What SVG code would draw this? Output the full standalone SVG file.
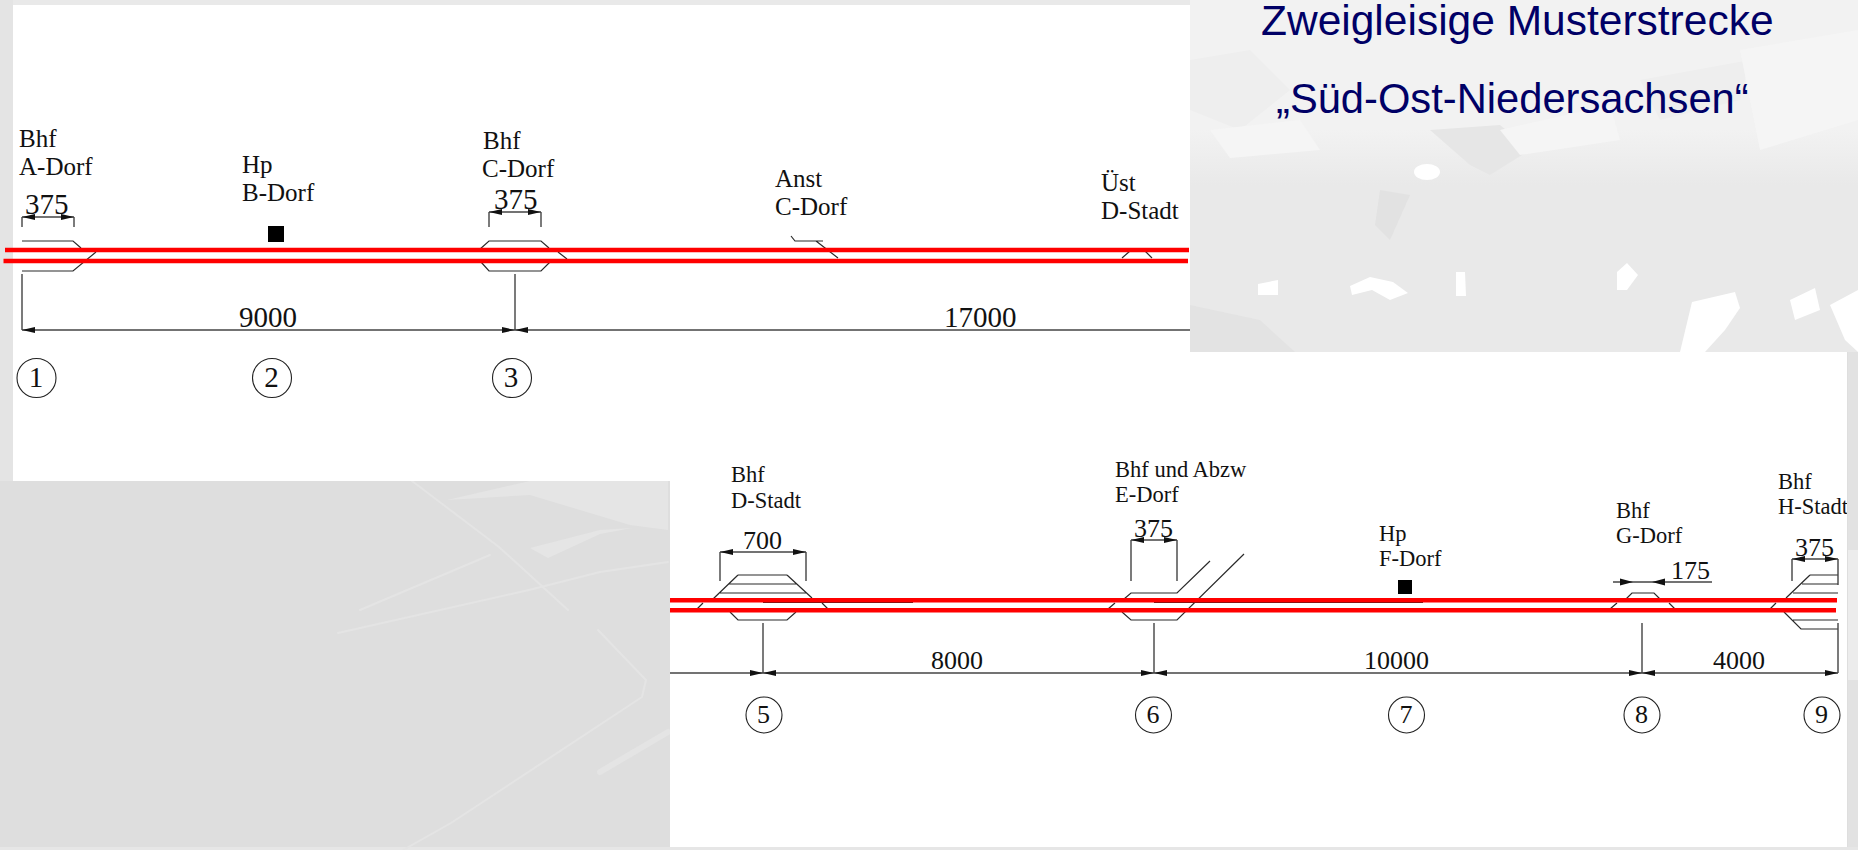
<svg xmlns="http://www.w3.org/2000/svg" width="1858" height="850" viewBox="0 0 1858 850">
<style>
.l{fill:none;stroke:#2a2a2a;stroke-width:1.2}
.t{font-family:"Liberation Serif","Times New Roman",serif;fill:#111}
.a{font-size:25px}.b{font-size:22.500px}.n{font-size:29px}.m{font-size:26px}
.track{fill:none;stroke:#ff0000;stroke-width:4.500}
.dim{fill:none;stroke:#444;stroke-width:1.400;marker-start:url(#ah);marker-end:url(#ah)}
.dimn{fill:none;stroke:#444;stroke-width:1.400}
.c{fill:#fff;stroke:#222;stroke-width:1.100}
.st{fill:none;stroke:#e4e4e4;stroke-linecap:round}
.title{font-family:"Liberation Sans",Arial,sans-serif;font-size:42.500px;fill:#000066}
</style>
<defs>
<marker id="ah" markerUnits="userSpaceOnUse" markerWidth="13" markerHeight="7" refX="13" refY="3.500" orient="auto-start-reverse"><path d="M0 0.500L13 3.500L0 6.500Z" fill="#111"/></marker>
<clipPath id="sheet2"><rect x="670" y="352" width="1177" height="495"/></clipPath>
<linearGradient id="fade" x1="0" y1="0" x2="0" y2="1"><stop offset="0.700" stop-color="#f2f2f2"/><stop offset="1" stop-color="#e9e9e9"/></linearGradient>
</defs>
<g id="background">
<rect width="1858" height="850" fill="#dedede"/>
<rect x="0" y="0" width="1858" height="352" fill="#e9e9e9"/>
<rect x="1190" y="0" width="668" height="185" fill="url(#fade)"/>
<path d="M1190 60L1250 50L1290 90L1240 130L1190 110Z" fill="#eeeeee"/>
<path d="M1430 130L1500 125L1530 150L1490 175L1470 165Z" fill="#e6e6e6"/>
<path d="M1640 80L1750 60L1740 100L1660 120Z" fill="#eeeeee"/>
<path d="M1210 130L1300 120L1320 150L1230 158Z" fill="#f5f5f5"/>
<path d="M1500 130L1610 105L1620 140L1520 155Z" fill="#f5f5f5"/>
<path d="M1740 50L1858 30L1858 120L1760 150Z" fill="#f5f5f5"/>
<path d="M1380 190L1410 195L1390 240L1375 225Z" fill="#e2e2e2"/>
<path d="M1190 305L1260 320L1295 352L1190 352Z" fill="#e3e3e3"/>
<g fill="#fff">
<ellipse cx="1427" cy="172" rx="13" ry="8"/>
<path d="M1258 284L1278 280L1278 295L1258 295Z"/>
<path d="M1350 286L1370 277L1393 282L1408 293L1390 300L1372 290L1352 295Z"/>
<path d="M1456 272L1465 272L1466 296L1456 296Z"/>
<path d="M1617 272L1627 263L1638 275L1627 290L1617 290Z"/>
<path d="M1692 302L1735 292L1740 308L1725 330L1705 352L1680 352Z"/>
<path d="M1790 300L1815 288L1820 310L1795 320ZM1830 305L1858 290L1858 352L1845 340Z"/>
</g>
<rect x="0" y="0" width="13" height="850" fill="#e4e4e4"/>
<rect x="0" y="481" width="13" height="369" fill="#dedede"/>
<rect x="1848" y="352" width="10" height="498" fill="#e2e2e2"/>
<rect x="1848" y="550" width="10" height="130" fill="#ececec"/>
<rect x="0" y="847" width="1858" height="3" fill="#e6e6e6"/>
<path d="M447 500L530 481L668 481L668 530L630 525L530 495Z" fill="#e5e5e5"/>
<path class="st" stroke-width="2" d="M338 633L529 590M412 481L499 547L568 610M598 630L646 680L642 697L451 823L403 850"/>
<path class="st" stroke-width="2" d="M529 590L600 572L668 562M360 610L490 555"/>
<path class="st" stroke-width="6" d="M600 772L668 732"/>
<path d="M530 548L548 558L600 534L632 528L600 530Z" fill="#e5e5e5"/>
</g>
<rect id="sheet-top" x="13" y="5" width="1177" height="476" fill="#fff"/>
<rect id="sheet-bottom" x="670" y="352" width="1177" height="495" fill="#fff"/>
<text id="title-1" class="title" x="1261" y="35">Zweigleisige Musterstrecke</text>
<text id="title-2" class="title" x="1276" y="113" style="font-size:41.700px">„Süd-Ost-Niedersachsen“</text>

<g id="station-1">
<path class="l" d="M22 241H73L81 248M22 271H73L96 252"/>
<text class="t a" x="19" y="147">Bhf</text><text class="t a" x="19" y="175">A-Dorf</text>
<text class="t n" x="25" y="214">375</text>
<path class="dimn" d="M22 227V217M74 227V217"/><path class="dim" d="M22 217H74"/>
<circle class="c" cx="36.500" cy="378" r="19.500"/><text class="t n" x="36" y="387" text-anchor="middle">1</text>
</g>
<g id="station-2">
<text class="t a" x="242" y="173">Hp</text><text class="t a" x="242" y="201">B-Dorf</text>
<rect x="268" y="226" width="16" height="16" fill="#000"/>
<circle class="c" cx="272" cy="378" r="19.500"/><text class="t n" x="271.500" y="387" text-anchor="middle">2</text>
</g>
<g id="station-3">
<path class="l" d="M479 250L489 241H541L549 248M558 252L567 259M481 262L489 271H541L550 262"/>
<text class="t a" x="483" y="149">Bhf</text><text class="t a" x="482" y="177">C-Dorf</text>
<text class="t n" x="494" y="209">375</text>
<path class="dimn" d="M489 227V212M541 227V212"/><path class="dim" d="M489 212H541"/>
<circle class="c" cx="512" cy="378" r="19.500"/><text class="t n" x="511" y="387" text-anchor="middle">3</text>
</g>
<g id="anst-c-dorf">
<path class="l" d="M791 236L795 241H823M816 241L838 258"/>
<text class="t a" x="775" y="187">Anst</text><text class="t a" x="775" y="215">C-Dorf</text>
</g>
<g id="ust-d-stadt">
<path class="l" d="M1122 258L1130 251M1145 251L1152 258"/>
<text class="t a" x="1101" y="191">Üst</text><text class="t a" x="1101" y="219">D-Stadt</text>
</g>

<g id="station-5">
<path class="l" d="M738 575H787M729 584H797M720 593H806M713 599L738 575M787 575L812 598M697 609L703 603M822 603L828 609M730 612L738 620H787L796 612"/>
<text class="t b" x="731" y="482">Bhf</text><text class="t b" x="731" y="508">D-Stadt</text>
<text class="t m" x="743" y="549">700</text>
<path class="dimn" d="M720 581V552M806 581V552"/><path class="dim" d="M720 552H806"/>
<circle class="c" cx="764" cy="715" r="18"/><text class="t m" x="763.500" y="723" text-anchor="middle">5</text>
</g>
<g id="station-6">
<path class="l" d="M1124 599L1131 593H1177L1210 561M1244 554L1177 620H1131L1122 612M1108 609L1115 603"/>
<text class="t b" x="1115" y="477">Bhf und Abzw</text><text class="t b" x="1115" y="502">E-Dorf</text>
<text class="t m" x="1134" y="537">375</text>
<path class="dimn" d="M1131 581V540M1177 581V540"/><path class="dim" d="M1131 540H1177"/>
<circle class="c" cx="1153.500" cy="715" r="18"/><text class="t m" x="1153" y="723" text-anchor="middle">6</text>
</g>
<g id="station-7">
<text class="t b" x="1379" y="541">Hp</text><text class="t b" x="1379" y="566">F-Dorf</text>
<rect x="1398" y="580" width="14" height="14" fill="#000"/>
<circle class="c" cx="1406.500" cy="715" r="18"/><text class="t m" x="1406" y="723" text-anchor="middle">7</text>
</g>
<g id="station-8">
<path class="l" d="M1626 599L1632 593H1654L1660 599M1610 609L1617 603M1669 603L1675 609"/>
<text class="t b" x="1616" y="518">Bhf</text><text class="t b" x="1616" y="543">G-Dorf</text>
<text class="t m" x="1671" y="579">175</text>
<path class="dimn" d="M1613 582H1712"/>
<path d="M1620 578.500L1633 582L1620 585.500ZM1665 578.500L1652 582L1665 585.500Z" fill="#111"/>
<circle class="c" cx="1642" cy="715" r="18"/><text class="t m" x="1641.500" y="723" text-anchor="middle">8</text>
</g>
<g id="station-9">
<path class="l" d="M1810 575H1838M1802 584H1838M1793 593H1838M1786 598L1810 575M1770 609L1776 603M1784 612L1801 629H1838M1793 620H1838"/>
<g clip-path="url(#sheet2)"><text class="t b" x="1778" y="489">Bhf</text><text class="t b" x="1778" y="514">H-Stadt</text></g>
<text class="t m" x="1795" y="556">375</text>
<path class="dimn" d="M1792 581V559M1838 585V559"/><path class="dim" d="M1792 559H1838"/>
<circle class="c" cx="1822" cy="715" r="18"/><text class="t m" x="1821.500" y="723" text-anchor="middle">9</text>
</g>

<g id="connectors">
<path class="dimn" d="M22 274V330M515 274V330M763 623V673M1154 623V673M1642 623V673M1838 623V673"/>
<path class="dim" d="M22 330H515"/>
<path class="dimn" d="M515 330H1190" marker-start="url(#ah)"/>
<path class="dimn" d="M670 673H763" marker-end="url(#ah)"/>
<path class="dim" d="M763 673H1154"/>
<path class="dim" d="M1154 673H1642"/>
<path class="dim" d="M1642 673H1838"/>
<path fill="none" stroke="#222" stroke-width="1" d="M763 602.500H913M1154 602.500H1423"/>
<path class="track" d="M5 250H1189M3.500 261H1188M670 600.300H1837M670 610.300H1836"/>
</g>
<g id="dimension-labels">
<text class="t n" x="239" y="327">9000</text>
<text class="t n" x="944" y="327">17000</text>
<text class="t m" x="931" y="669">8000</text>
<text class="t m" x="1364" y="669">10000</text>
<text class="t m" x="1713" y="669">4000</text>
</g>
</svg>
